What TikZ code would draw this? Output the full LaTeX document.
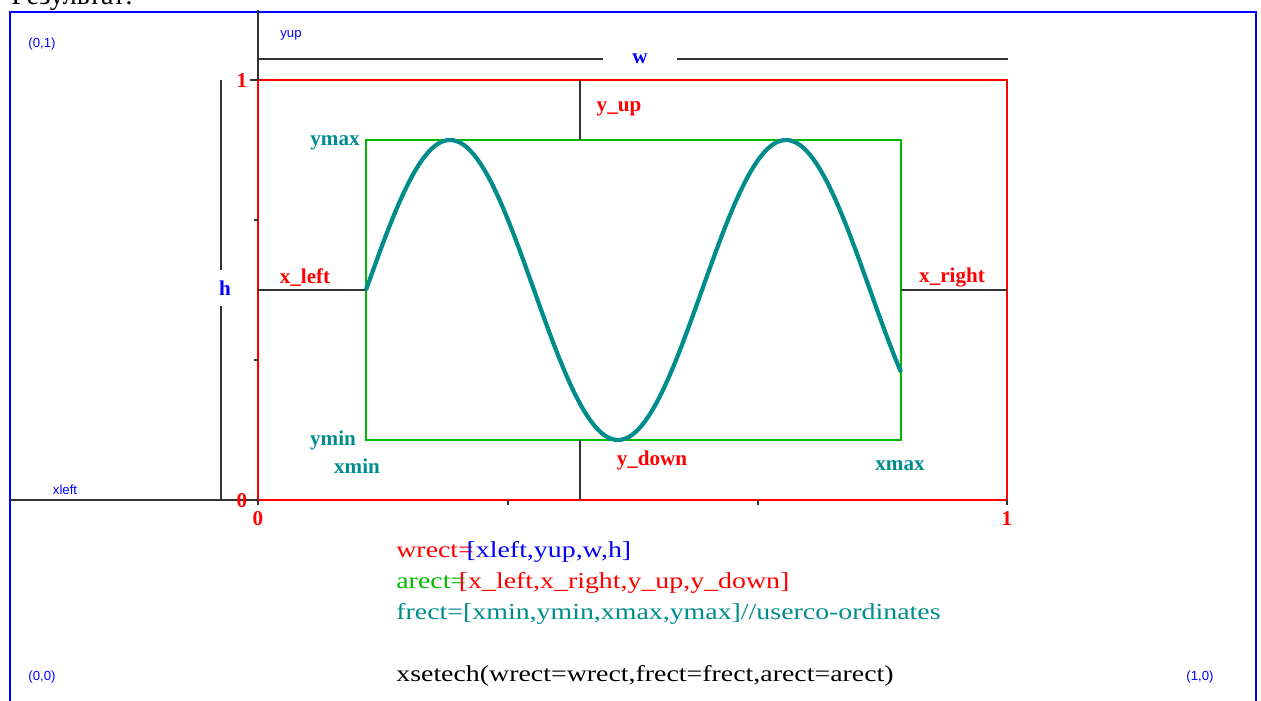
\documentclass[tikz,border=0pt]{standalone}
\usepackage{fontspec}
\setmainfont{Liberation Serif}
\setsansfont{Liberation Sans}
\newfontfamily\codefont[FakeStretch=1.22]{Liberation Serif}
\usetikzlibrary{positioning,calc}
\definecolor{myblue}{RGB}{0,0,255}
\definecolor{myred}{RGB}{255,0,0}
\definecolor{mygreen}{RGB}{0,185,0}
\definecolor{myteal}{RGB}{0,140,140}
\definecolor{mygray}{RGB}{50,50,50}

\begin{document}
\begin{tikzpicture}[
    x=0.02cm, y=-0.02cm,
    axis/.style={draw=mygray, line width=0.7pt},
    alabel/.style={font=\bfseries\fontsize{12}{14}\selectfont, text=myred, inner sep=0pt},
    flabel/.style={font=\bfseries\fontsize{12}{14}\selectfont, text=myteal, inner sep=0pt},
    wlabel/.style={font=\bfseries\fontsize{12}{14}\selectfont, text=myblue, inner sep=0pt},
    corner/.style={font=\sffamily\fontsize{7.5}{8}\selectfont, text=myblue, inner sep=0pt},
    codeline/.style={font=\codefont\fontsize{13}{15}\selectfont, anchor=west, inner sep=0pt},
]
    \useasboundingbox (0,0) rectangle (1261,700);

    % Heading, cut at the top
    \node[font=\fontsize{16}{18}\selectfont, anchor=base west, inner sep=0pt] (title) at (11,4) {Результат:};

    % Window frame
    \draw[myblue, line width=0.9pt] (10,710) -- (10,12) -- (1256,12) -- (1256,710);
    \node[corner] (c01) at (42,44) {(0,1)};
    \node[corner] (c00) at (42,677) {(0,0)};
    \node[corner] (c10) at (1200,677) {(1,0)};

    % Main rectangles
    \coordinate (aNW) at (258,80);
    \coordinate (aSE) at (1007,500);
    \coordinate (fNW) at (366,140);
    \coordinate (fSE) at (901,440);
    \draw[myred, line width=0.7pt] (aNW) rectangle (aSE);
    \draw[mygreen, line width=0.7pt] (fNW) rectangle (fSE);
    \draw[mygreen, line width=1.6pt] (fNW |- fSE) -- (fSE);

    % wrect dimensions
    \node[corner] (yup) at (291,35) {yup};
    \node[corner] (xleft) at (65,490) {xleft};
    \node[wlabel, minimum width=1.48cm] (w) at (640,59) {w};
    \node[wlabel, minimum height=0.7cm] (h) at (225,288) {h};
    \coordinate (wL) at (258,59);
    \coordinate (wR) at (1008,59);
    \coordinate (hT) at (221,80);
    \coordinate (hB) at (221,500);
    \draw[axis] (258,10) -- (aNW);
    \draw[axis] (wL) -- (w.west);
    \draw[axis] (w.east) -- (wR);
    \draw[axis] (hT) -- (hT |- h.north);
    \draw[axis] (h.south -| hB) -- (hB);
    \draw[axis] (10,500) -- (aNW |- aSE);

    % Ticks
    \draw[axis] (250,80) -- (aNW);
    \foreach \y in {220,360} \draw[axis] (254,\y) -- (258,\y);
    \foreach \x in {258,508,758,1007} \draw[axis] (\x,500) -- (\x,505);
    \node[alabel] (one) at (242,81) {1};
    \node[alabel] (zero) at (242,501) {0};
    \node[alabel] (xzero) at (258,519) {0};
    \node[alabel] (xone) at (1007,519) {1};

    % arect margins
    \draw[axis] (580,80) -- (580,140);
    \draw[axis] (580,440) -- (580,500);
    \draw[axis] (258,290) -- (366,290);
    \draw[axis] (901,290) -- (1007,290);
    \node[alabel] (yu) at (619,109) {y\_up};
    \node[alabel] (yd) at (652,460) {y\_down};
    \node[alabel] (xl) at (305,278) {x\_left};
    \node[alabel] (xr) at (952,278) {x\_right};

    % frect labels
    \node[flabel] (ymax) at (335,143) {ymax};
    \node[flabel] (ymin) at (333,440) {ymin};
    \node[flabel] (xmin) at (357,466) {xmin};
    \node[flabel] (xmax) at (900,466) {xmax};

    % Curve
    \draw[myteal, line width=2.4pt, domain=366:901, samples=160, smooth]
        plot (\x, {290 - 150*sin((\x-366)/336*360)});

    % Code
    \node[codeline] (l1) at (396,552) {\textcolor{myred}{wrect=}\kern-0.32em\textcolor{myblue}{[xleft,yup,w,h]}};
    \node[codeline] (l2) at (396,583) {\textcolor{mygreen}{arect=}\kern-0.32em\textcolor{myred}{[x\_left,x\_right,y\_up,y\_down]}};
    \node[codeline, text=myteal] (l3) at (396,614) {frect=[xmin,ymin,xmax,ymax]//userco-ordinates};
    \node[codeline] (l4) at (396,676) {xsetech(wrect=wrect,frect=frect,arect=arect)};
\end{tikzpicture}
\end{document}
